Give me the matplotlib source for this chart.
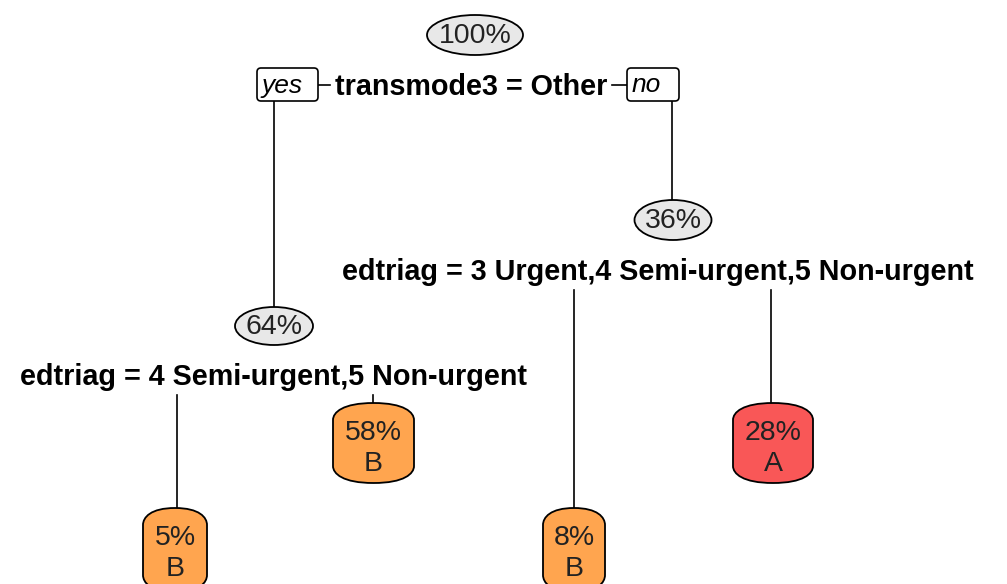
import matplotlib
matplotlib.use("Agg")
import matplotlib.pyplot as plt
from matplotlib.patches import Ellipse, FancyBboxPatch, PathPatch
from matplotlib.path import Path

# ---- data ----
split_pcts = ["100%", "36%", "64%"]
split_labels = ["transmode3 = Other",
                "edtriag = 3 Urgent,4 Semi-urgent,5 Non-urgent",
                "edtriag = 4 Semi-urgent,5 Non-urgent"]
leaf_pcts = ["58%", "28%", "5%", "8%"]
leaf_classes = ["B", "A", "B", "B"]
class_colors = {"A": "#F95757", "B": "#FFA54F"}

# ---- layout (pixel coordinates) ----
split_ell = [(475, 35, 96, 40), (673, 220, 77, 40), (274, 326, 78, 38)]
split_lab = [(471, 87), (658, 272), (273, 377)]
leaf_box = [(333, 403, 81, 80), (733, 403, 80, 80), (143, 508, 64, 84), (543, 508, 62, 84)]
edges = [((274, 101), (274, 307)), ((672, 101), (672, 200)),
         ((574, 290), (574, 508)), ((771, 290), (771, 403)),
         ((177, 395), (177, 508)), ((373, 395), (373, 403)),
         ((318, 85), (330, 85)), ((612, 85), (627, 85))]

FONT = "Liberation Sans"
fig = plt.figure(figsize=(10.07, 5.84), dpi=100)
ax = fig.add_axes([0, 0, 1, 1])
ax.set_xlim(0, 1007)
ax.set_ylim(584, 0)
ax.axis("off")


def leaf_path(x0, y0, w, h, r=17):
    x1, y1 = x0 + w, y0 + h
    xm = x0 + w / 2
    a, c = 0.55, 0.12
    verts = [(x0, y1 - r), (x0, y0 + r),
             (x0, y0 + r * a), (x0 + w * c, y0), (xm, y0),
             (x1 - w * c, y0), (x1, y0 + r * a), (x1, y0 + r),
             (x1, y1 - r),
             (x1, y1 - r * a), (x1 - w * c, y1), (xm, y1),
             (x0 + w * c, y1), (x0, y1 - r * a), (x0, y1 - r),
             (x0, y1 - r)]
    codes = [Path.MOVETO, Path.LINETO,
             Path.CURVE4, Path.CURVE4, Path.CURVE4,
             Path.CURVE4, Path.CURVE4, Path.CURVE4,
             Path.LINETO,
             Path.CURVE4, Path.CURVE4, Path.CURVE4,
             Path.CURVE4, Path.CURVE4, Path.CURVE4,
             Path.CLOSEPOLY]
    return Path(verts, codes)


for (a, b) in edges:
    ax.plot([a[0], b[0]], [a[1], b[1]], color="black", lw=1.2, zorder=1)

for (x, y, w, h), p in zip(split_ell, split_pcts):
    ax.add_patch(Ellipse((x, y), w, h, facecolor="#E8E8E8", edgecolor="black", lw=1.3, zorder=2))
    ax.text(x, y + 1, p, ha="center", va="center", fontsize=20.5, family=FONT, color="#222222", zorder=3)

for (x, y), lab in zip(split_lab, split_labels):
    ax.text(x, y, lab, ha="center", va="center", fontsize=20.7, family=FONT,
            fontweight="bold", zorder=3)

# yes / no boxes
for (x0, y0, w, h, t) in [(257, 68, 61, 33, "yes"), (627, 68, 52, 33, "no")]:
    ax.add_patch(FancyBboxPatch((x0, y0), w, h, boxstyle="round,pad=0,rounding_size=4",
                                facecolor="white", edgecolor="black", lw=1.2, zorder=2))
    ax.text(x0 + 5, y0 + h / 2 + 1, t, ha="left", va="center", fontsize=19,
            family=FONT, style="italic", zorder=3)

for (x0, y0, w, h), p, c in zip(leaf_box, leaf_pcts, leaf_classes):
    ax.add_patch(PathPatch(leaf_path(x0, y0, w, h), facecolor=class_colors[c],
                           edgecolor="black", lw=1.3, zorder=2))
    ax.text(x0 + w / 2, y0 + 30, p, ha="center", va="center", fontsize=20.5,
            family=FONT, color="#222222", zorder=3)
    ax.text(x0 + w / 2, y0 + 61, c, ha="center", va="center", fontsize=20.5,
            family=FONT, color="#222222", zorder=3)

fig.savefig("out.png", dpi=100)
